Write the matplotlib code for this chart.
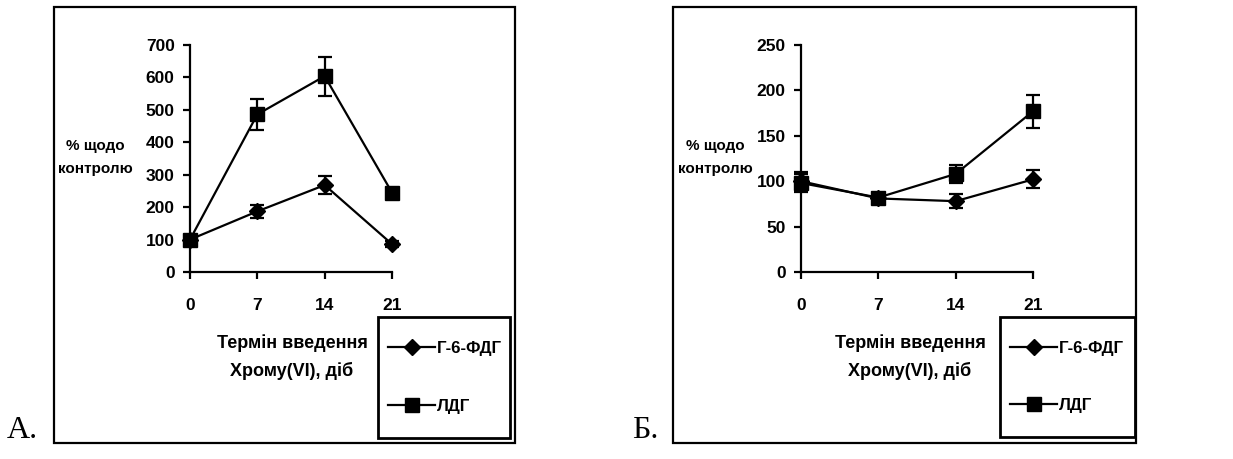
import matplotlib.pyplot as plt
from matplotlib.patches import Rectangle
from matplotlib.lines import Line2D

plt.rcParams['font.family'] = ['Liberation Sans', 'DejaVu Sans']
plt.rcParams['font.weight'] = 'bold'

days = [0, 7, 14, 21]
labels = ['Г-6-ФДГ', 'ЛДГ']

# панель А
a_g6pd = [100, 187, 268, 86]
a_g6pd_err = [8, 20, 27, 10]
a_ldh = [100, 486, 604, 245]
a_ldh_err = [10, 47, 60, 12]

# панель Б
b_g6pd = [100, 81, 78, 102]
b_g6pd_err = [10, 4, 8, 10]
b_ldh = [98, 82, 108, 177]
b_ldh_err = [10, 5, 10, 18]

W, H = 1233, 459
fig = plt.figure(figsize=(W / 100, H / 100), dpi=100)


def fx(px):
    return px / W


def fy(py):
    return 1 - py / H


def panel(box, axbox, legbox, ymax, ystep, g, ge, l, le, letter, letter_x,
          ylab_x, xlab_x):
    # зовнішня рамка
    x0, y0, x1, y1 = box
    fig.patches.append(Rectangle((fx(x0), fy(y1)), fx(x1 - x0), (y1 - y0) / H,
                                 transform=fig.transFigure, fill=False,
                                 lw=1.6, ec='black'))
    ax = fig.add_axes([fx(axbox[0]), fy(axbox[3]), fx(axbox[2] - axbox[0]),
                       (axbox[3] - axbox[1]) / H])
    hg = ax.errorbar(days, g, yerr=ge, color='black', lw=1.6, marker='D',
                     ms=8.5, capsize=5, capthick=1.6, elinewidth=1.6,
                     clip_on=False, zorder=3)
    hl = ax.errorbar(days, l, yerr=le, color='black', lw=1.6, marker='s',
                     ms=10, capsize=5, capthick=1.6, elinewidth=1.6,
                     clip_on=False, zorder=4)
    for bar in (hg, hl):
        for art in bar.lines[1] + bar.lines[2]:
            art.set_clip_on(False)
    ax.set_xlim(0, 21)
    ax.set_ylim(0, ymax)
    ax.set_xticks(days)
    ax.set_yticks(range(0, ymax + 1, ystep))
    for s in ('top', 'right'):
        ax.spines[s].set_visible(False)
    for s in ('left', 'bottom'):
        ax.spines[s].set_linewidth(1.6)
    ax.tick_params(axis='both', direction='out', length=5, width=1.6,
                   labelsize=12.5)
    ax.tick_params(axis='x', pad=14)
    ax.tick_params(axis='y', pad=6)
    for t in ax.get_xticklabels() + ax.get_yticklabels():
        t.set_fontweight('bold')

    # підписи осей
    fig.text(fx(ylab_x), fy(157.5), '% щодо\nконтролю', ha='center',
             va='center', fontsize=11, fontweight='bold', linespacing=1.85)
    fig.text(fx(xlab_x), fy(357),
             'Термін введення\nХрому(VI), діб', ha='center', va='center',
             fontsize=13, fontweight='bold', linespacing=1.75)

    # легенда
    lx0, ly0, lx1, ly1 = legbox
    fig.patches.append(Rectangle((fx(lx0), fy(ly1)), fx(lx1 - lx0),
                                 (ly1 - ly0) / H, transform=fig.transFigure,
                                 fill=False, lw=2.0, ec='black'))
    handles = [Line2D([], [], color='black', lw=1.6, marker='D', ms=8.5),
               Line2D([], [], color='black', lw=1.6, marker='s', ms=10)]
    leg = fig.legend(handles, labels, loc='center left',
                     bbox_to_anchor=(fx(lx0 + 3), fy((ly0 + ly1) / 2)),
                     frameon=False, fontsize=12.2, handlelength=2.8,
                     handletextpad=0.12, labelspacing=2.5, borderaxespad=0)
    for t in leg.get_texts():
        t.set_fontweight('bold')

    fig.text(fx(letter_x), fy(438), letter, fontsize=23, ha='left',
             va='baseline', family=['Liberation Serif', 'DejaVu Serif'],
             fontweight='normal')
    return ax


panel((54, 7, 515, 443), (190, 45, 392, 272), (378, 317, 510, 438),
      700, 100, a_g6pd, a_g6pd_err, a_ldh, a_ldh_err, 'А.', 7, 95, 292)
panel((673, 7, 1136, 443), (801, 45, 1033, 272), (1000, 317, 1135, 437),
      250, 50, b_g6pd, b_g6pd_err, b_ldh, b_ldh_err, 'Б.', 632, 715, 910)

fig.savefig('out.png', dpi=100)
